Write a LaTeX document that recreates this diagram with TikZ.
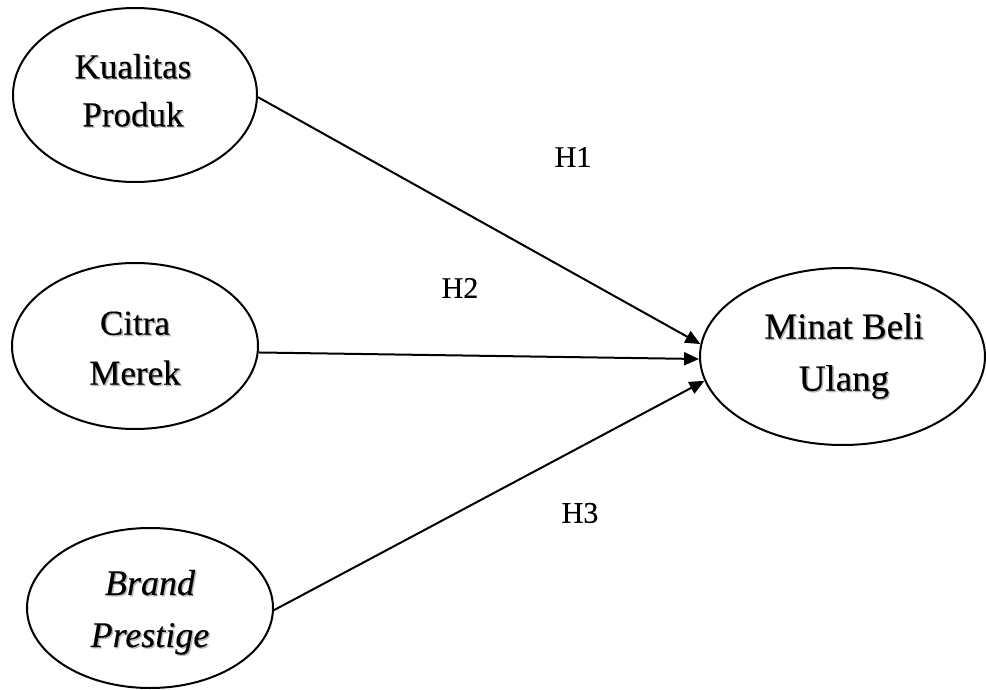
\documentclass[tikz,border=0pt]{standalone}
\usepackage{fontspec}
\setmainfont{Liberation Serif}[UprightFeatures={FakeBold=0.35},ItalicFeatures={FakeBold=0.35}]
\usetikzlibrary{shapes.geometric,arrows.meta}

% text with a soft grey drop shadow
\newcommand\shd[1]{\makebox[0pt][l]{\kern1.4pt\raisebox{-1.4pt}{\textcolor{black!28}{#1}}}#1}

\tikzset{
  construct/.style={draw, ellipse, line width=2pt, inner sep=0pt},
  conlabel/.style={align=center, inner sep=0pt},
  hyp/.style={inner sep=0pt, font=\fontsize{30}{36}\selectfont},
  path/.style={line width=2pt, -{Triangle[length=15pt,width=13pt]}}
}

\begin{document}
\begin{tikzpicture}[x=1pt,y=-1pt]
  \useasboundingbox (0,0) rectangle (986,690);

  % constructs
  \node[construct, minimum width=244pt, minimum height=174pt] (kp) at (135,95) {};
  \node[construct, minimum width=246pt, minimum height=166pt] (cm) at (135,346) {};
  \node[construct, minimum width=246pt, minimum height=160pt] (bp) at (150,608) {};
  \node[construct, minimum width=285pt, minimum height=177pt] (mb) at (842.5,356.5) {};

  % construct names
  \node[conlabel, font=\fontsize{35}{48}\selectfont] (kpt) at (133,91) {\shd{Kualitas}\\\shd{Produk}};
  \node[conlabel, font=\fontsize{35}{50}\selectfont] (cmt) at (135,349) {\shd{Citra}\\\shd{Merek}};
  \node[conlabel, font=\fontsize{36}{52}\selectfont\itshape] (bpt) at (150,613) {\shd{Brand}\\\shd{Prestige}};
  \node[conlabel, font=\fontsize{37}{52}\selectfont] (mbt) at (844,356.6) {\shd{Minat Beli}\\\shd{Ulang}};

  % hypothesised paths
  \draw[path] (kp.-1) -- (mb.175.3);
  \draw[path] (cm.-3) -- (mb.181.8);
  \draw[path] (bp.-1) -- (mb.190);

  % hypothesis labels
  \node[hyp] (h1) at (573,157) {H1};
  \node[hyp] (h2) at (460,288) {H2};
  \node[hyp] (h3) at (580,513) {H3};
\end{tikzpicture}
\end{document}
